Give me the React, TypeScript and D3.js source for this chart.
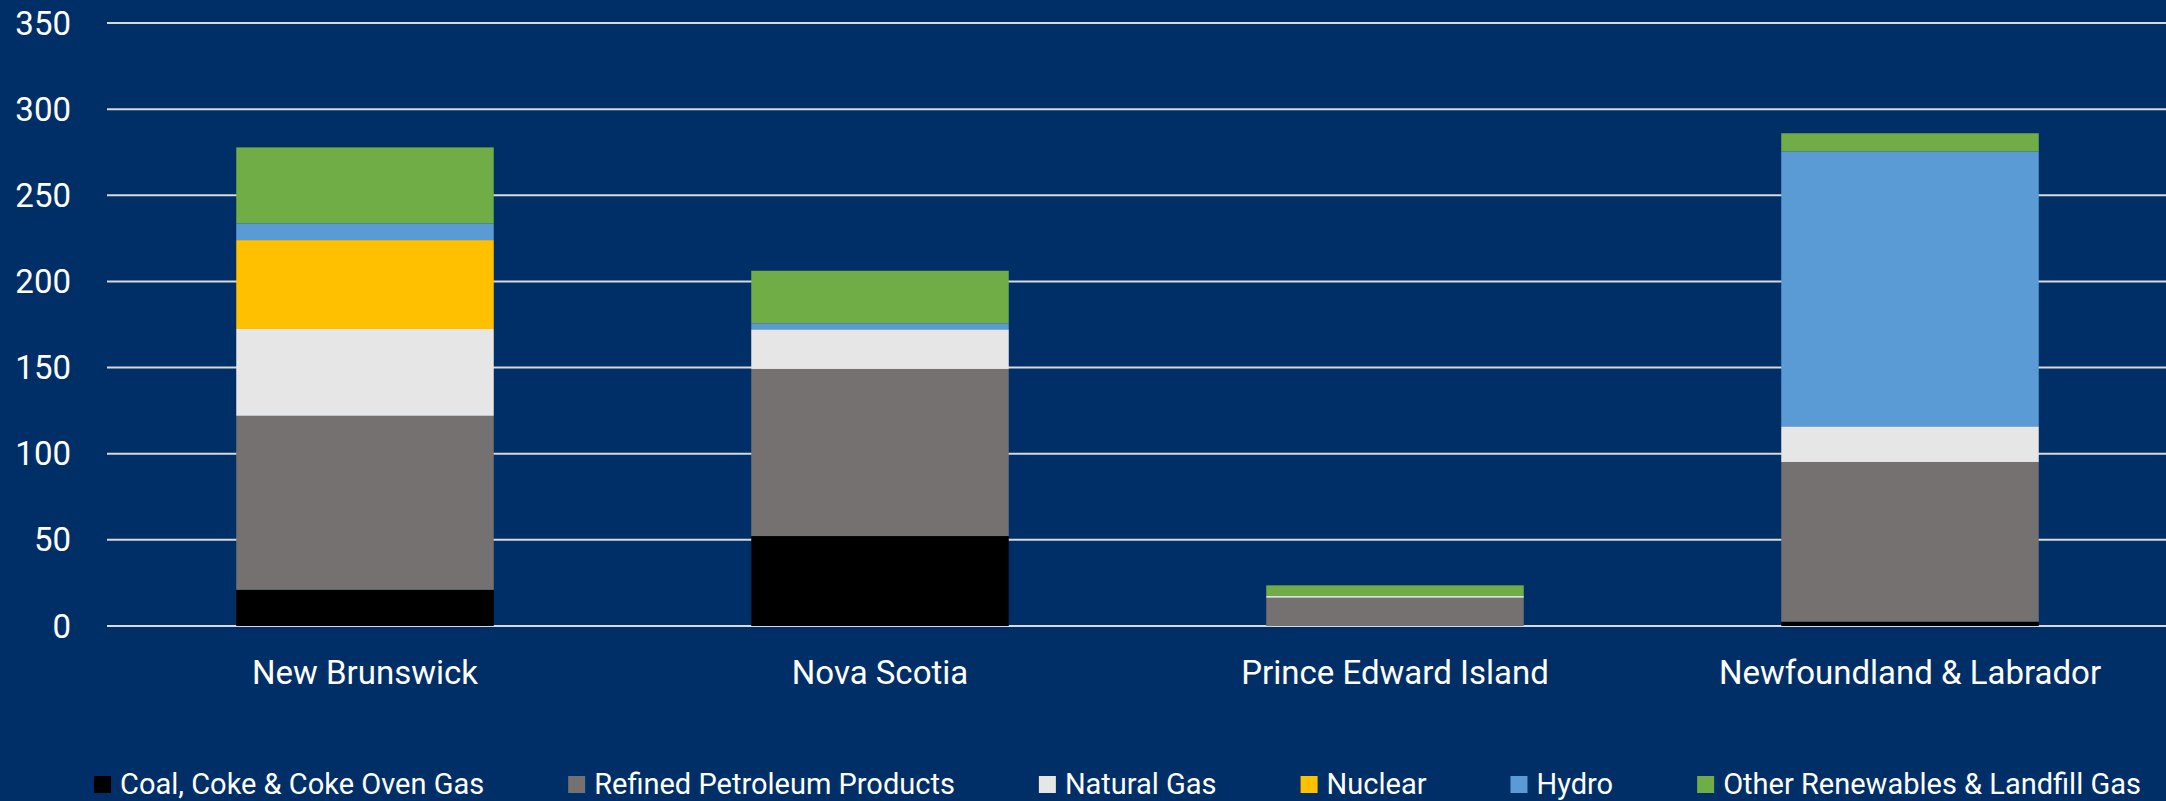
import React, { useEffect, useRef } from 'react';
import * as d3 from 'd3';

const W = 2166;
const H = 801;

const provinces = ['New Brunswick', 'Nova Scotia', 'Prince Edward Island', 'Newfoundland & Labrador'];

const sources = [
    'Coal, Coke & Coke Oven Gas',
    'Refined Petroleum Products',
    'Natural Gas',
    'Nuclear',
    'Hydro',
    'Other Renewables & Landfill Gas',
];

// one array per source, in province order
const coal = [21, 52.2, 0, 2.5];
const petroleum = [101, 97, 16.4, 92.7];
const naturalGas = [50.4, 23, 1, 20.7];
const nuclear = [51.6, 0, 0, 0];
const hydro = [9.7, 3.5, 0, 159.6];
const otherRenewables = [44.1, 30.5, 6.2, 10.5];

const yTicks = [0, 50, 100, 150, 200, 250, 300, 350];

const COLORS = ['#000000', '#767171', '#E7E6E6', '#FFC000', '#5B9BD5', '#70AD47'];

const FONT = 'Roboto, "Open Sans", sans-serif';

export default function App() {
    const svgRef = useRef<SVGSVGElement>(null);

    useEffect(() => {
        if (!svgRef.current) return;
        const svg = d3.select(svgRef.current);
        svg.selectAll('*').remove();

        const seriesValues = [coal, petroleum, naturalGas, nuclear, hydro, otherRenewables];
        const table = provinces.map((p, i) => {
            const row: Record<string, any> = { province: p };
            sources.forEach((s, j) => { row[s] = seriesValues[j][i]; });
            return row;
        });
        const stacked = d3.stack().keys(sources)(table as any);

        const x = d3.scaleBand().domain(provinces).range([107.5, 2167.5]).paddingInner(0.5).paddingOuter(0.25);
        const y = d3.scaleLinear().domain([0, 350]).range([626, 23]);

        svg.append('rect').attr('width', W).attr('height', H).attr('fill', '#002F67');

        // gridlines
        svg.append('g')
            .selectAll('line')
            .data(yTicks)
            .join('line')
            .attr('x1', 107).attr('x2', W)
            .attr('y1', d => y(d)).attr('y2', d => y(d))
            .attr('stroke', '#D9D9D9')
            .attr('stroke-width', 2);

        // y tick labels
        svg.append('g')
            .selectAll('text')
            .data(yTicks)
            .join('text')
            .attr('x', 71)
            .attr('y', d => y(d))
            .attr('dy', '0.35em')
            .attr('text-anchor', 'end')
            .attr('fill', '#ffffff')
            .attr('font-family', FONT)
            .attr('font-size', 33)
            .text(d => d);

        // bars
        svg.append('g')
            .selectAll('g')
            .data(stacked)
            .join('g')
            .attr('fill', (_, i) => COLORS[i])
            .selectAll('rect')
            .data(d => d.filter(s => s[1] - s[0] > 0))
            .join('rect')
            .attr('x', d => x((d.data as any).province)!)
            .attr('width', x.bandwidth())
            .attr('y', d => y(d[1]))
            .attr('height', d => y(d[0]) - y(d[1]));

        // x labels
        svg.append('g')
            .selectAll('text')
            .data(provinces)
            .join('text')
            .attr('x', d => x(d)! + x.bandwidth() / 2)
            .attr('y', 684)
            .attr('text-anchor', 'middle')
            .attr('fill', '#ffffff')
            .attr('font-family', FONT)
            .attr('font-size', 33)
            .text(d => d);

        // legend, laid out from measured text widths and centred
        const legend = svg.append('g');
        const items = legend.selectAll('g').data(sources).join('g');
        items.append('rect')
            .attr('width', 17).attr('height', 17)
            .attr('y', 776)
            .attr('fill', (_, i) => COLORS[i]);
        const texts = items.append('text')
            .attr('x', 26)
            .attr('y', 794)
            .attr('fill', '#ffffff')
            .attr('font-family', FONT)
            .attr('font-size', 29)
            .text(d => d);
        const widths: number[] = [];
        texts.each(function () { widths.push((this as SVGTextElement).getComputedTextLength()); });
        const gap = 84;
        let total = 0;
        widths.forEach((w, i) => { total += 26 + w + (i < widths.length - 1 ? gap : 0); });
        let cx = 1117.5 - total / 2;
        items.attr('transform', (_, i) => {
            const t = `translate(${cx},0)`;
            cx += 26 + widths[i] + gap;
            return t;
        });
    }, []);

    return (
        <svg
            ref={svgRef}
            width={W}
            height={H}
            style={{ position: 'absolute', left: 0, top: 0, display: 'block' }}
        />
    );
}
